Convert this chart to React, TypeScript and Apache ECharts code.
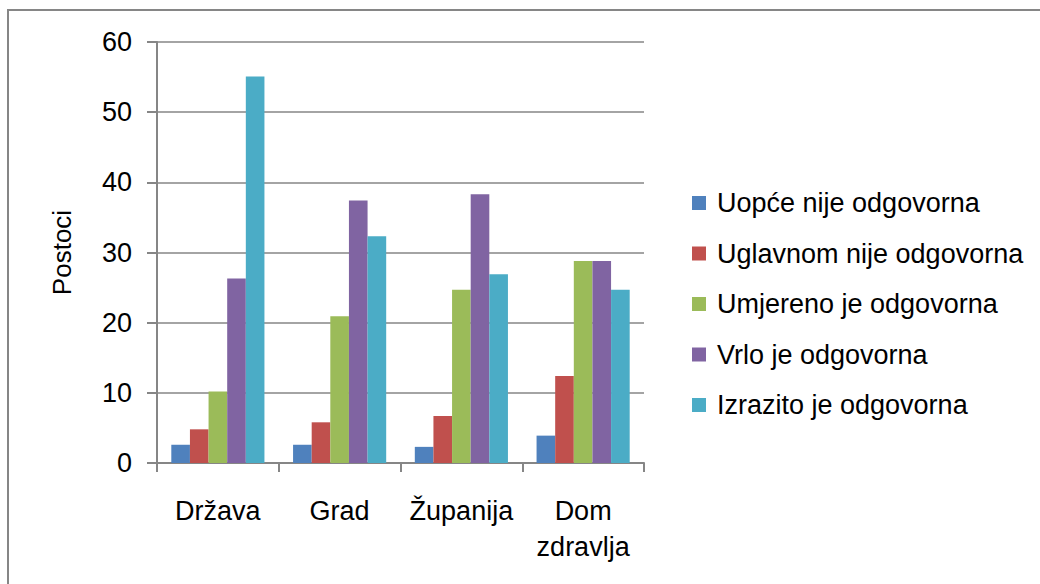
import React, { useEffect, useRef } from "react";
import * as echarts from "echarts";

const categories = ["Država", "Grad", "Županija", "Dom\nzdravlja"];
const seriesNames = [
  "Uopće nije odgovorna",
  "Uglavnom nije odgovorna",
  "Umjereno je odgovorna",
  "Vrlo je odgovorna",
  "Izrazito je odgovorna",
];
const uopceNije = [2.6, 2.6, 2.3, 3.9];
const uglavnomNije = [4.8, 5.8, 6.7, 12.4];
const umjereno = [10.2, 20.9, 24.7, 28.8];
const vrlo = [26.3, 37.4, 38.3, 28.8];
const izrazito = [55.1, 32.3, 26.9, 24.7];
const colors = ["#4F81BD", "#C0504D", "#9BBB59", "#8064A2", "#4BACC6"];
const yTicks = { min: 0, max: 60, interval: 10 };

const FONT = "Liberation Sans";

const App = () => {
  const ref = useRef<HTMLDivElement>(null);
  useEffect(() => {
    if (!ref.current) return;
    const chart = echarts.init(ref.current, null, { renderer: "svg" });
    const values = [uopceNije, uglavnomNije, umjereno, vrlo, izrazito];
    const axisGray = "#868686";
    chart.setOption({
      animation: false,
      backgroundColor: "#ffffff",
      color: colors,
      grid: { left: 157, right: 396, top: 42, bottom: 121, containLabel: false },
      graphic: [
        {
          type: "rect",
          shape: { x: 8, y: 10, width: 1100, height: 700 },
          style: { fill: "none", stroke: axisGray, lineWidth: 2 },
          silent: true,
        },
      ],
      legend: {
        orient: "vertical",
        left: 692,
        top: 188,
        padding: 0,
        itemWidth: 14,
        itemHeight: 14,
        itemGap: 20.5,
        icon: "rect",
        data: seriesNames,
        textStyle: {
          fontFamily: FONT,
          fontSize: 27,
          lineHeight: 30,
          color: "#000",
          padding: [0, 0, 0, 6],
        },
      },
      xAxis: {
        type: "category",
        data: categories,
        axisLine: { show: true, lineStyle: { color: axisGray, width: 2 } },
        axisTick: { show: true, alignWithLabel: false, length: 9, lineStyle: { color: axisGray, width: 2 } },
        axisLabel: {
          fontFamily: FONT,
          fontSize: 27,
          lineHeight: 36,
          color: "#000",
          margin: 30,
          interval: 0,
          align: "center",
        },
        splitLine: { show: false },
      },
      yAxis: {
        type: "value",
        min: yTicks.min,
        max: yTicks.max,
        interval: yTicks.interval,
        name: "Postoci",
        nameLocation: "middle",
        nameRotate: 90,
        nameGap: 82,
        nameTextStyle: { fontFamily: FONT, fontSize: 26, color: "#000" },
        axisLine: { show: true, lineStyle: { color: axisGray, width: 2 } },
        axisTick: { show: true, inside: false, length: 10, lineStyle: { color: axisGray, width: 2 } },
        axisLabel: { fontFamily: FONT, fontSize: 27, color: "#000", margin: 25 },
        splitLine: { show: true, lineStyle: { color: axisGray, width: 1.5 } },
      },
      series: seriesNames.map((name, i) => ({
        name,
        type: "bar",
        data: values[i],
        barGap: "0%",
        barCategoryGap: "23.5%",
        itemStyle: { color: colors[i] },
      })),
    });
    return () => chart.dispose();
  }, []);
  return (
    <div
      ref={ref}
      style={{ position: "fixed", left: 0, top: 0, width: 1040, height: 584 }}
    />
  );
};

export default App;
